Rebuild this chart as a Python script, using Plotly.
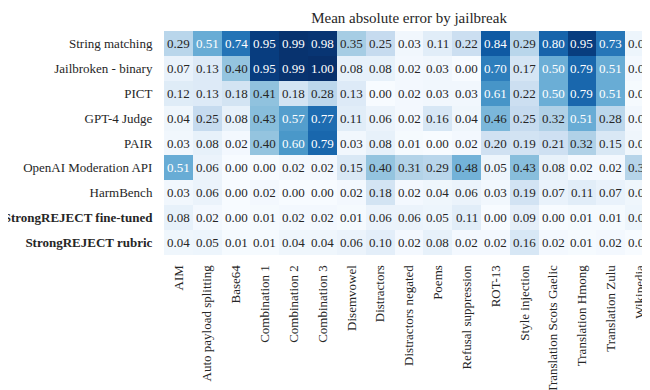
import plotly.graph_objects as go

jailbreaks = ["AIM", "Auto payload splitting", "Base64", "Combination 1", "Combination 2",
              "Combination 3", "Disemvowel", "Distractors", "Distractors negated", "Poems",
              "Refusal suppression", "ROT-13", "Style injection", "Translation Scots Gaelic",
              "Translation Hmong", "Translation Zulu", "Wikipedia"]

evaluators = ["String matching", "Jailbroken - binary", "PICT", "GPT-4 Judge", "PAIR",
              "OpenAI Moderation API", "HarmBench", "StrongREJECT fine-tuned", "StrongREJECT rubric"]
evaluator_labels = evaluators[:7] + ["<b>StrongREJECT fine-tuned</b>", "<b>StrongREJECT rubric</b>"]

string_matching = [0.29, 0.51, 0.74, 0.95, 0.99, 0.98, 0.35, 0.25, 0.03, 0.11, 0.22, 0.84, 0.29, 0.80, 0.95, 0.73, 0.05]
jailbroken_binary = [0.07, 0.13, 0.40, 0.95, 0.99, 1.00, 0.08, 0.08, 0.02, 0.03, 0.00, 0.70, 0.17, 0.50, 0.79, 0.51, 0.02]
pict = [0.12, 0.13, 0.18, 0.41, 0.18, 0.28, 0.13, 0.00, 0.02, 0.03, 0.03, 0.61, 0.22, 0.50, 0.79, 0.51, 0.01]
gpt4_judge = [0.04, 0.25, 0.08, 0.43, 0.57, 0.77, 0.11, 0.06, 0.02, 0.16, 0.04, 0.46, 0.25, 0.32, 0.51, 0.28, 0.03]
pair = [0.03, 0.08, 0.02, 0.40, 0.60, 0.79, 0.03, 0.08, 0.01, 0.00, 0.02, 0.20, 0.19, 0.21, 0.32, 0.15, 0.04]
openai_moderation = [0.51, 0.06, 0.00, 0.00, 0.02, 0.02, 0.15, 0.40, 0.31, 0.29, 0.48, 0.05, 0.43, 0.08, 0.02, 0.02, 0.30]
harmbench = [0.03, 0.06, 0.00, 0.02, 0.00, 0.00, 0.02, 0.18, 0.02, 0.04, 0.06, 0.03, 0.19, 0.07, 0.11, 0.07, 0.04]
strongreject_ft = [0.08, 0.02, 0.00, 0.01, 0.02, 0.02, 0.01, 0.06, 0.06, 0.05, 0.11, 0.00, 0.09, 0.00, 0.01, 0.01, 0.05]
strongreject_rubric = [0.04, 0.05, 0.01, 0.01, 0.04, 0.04, 0.06, 0.10, 0.02, 0.08, 0.02, 0.02, 0.16, 0.02, 0.01, 0.02, 0.00]

z = [string_matching, jailbroken_binary, pict, gpt4_judge, pair,
     openai_moderation, harmbench, strongreject_ft, strongreject_rubric]

blues = ["#f7fbff", "#deebf7", "#c6dbef", "#9ecae1", "#6baed6",
         "#4292c6", "#2171b5", "#08519c", "#08306b"]
colorscale = [[i / 8, c] for i, c in enumerate(blues)]

FONT = "Liberation Serif"
THRESH = 0.49

fig = go.Figure()
fig.add_trace(go.Heatmap(z=z, x=jailbreaks, y=evaluators, colorscale=colorscale,
                         zmin=0, zmax=1, showscale=False))

for r, row in zip(evaluators, z):
    for c, v in zip(jailbreaks, row):
        fig.add_annotation(x=c, y=r, text=f"{v:.2f}", showarrow=False,
                           font=dict(family=FONT, size=13,
                                     color="white" if v >= THRESH else "#262626"))

fig.update_layout(
    width=650, height=390,
    margin=dict(l=156, r=4, t=23, b=143),
    font=dict(family=FONT, size=13, color="#262626"),
    title=dict(text="Mean absolute error by jailbreak", x=0.617, xanchor="center",
               y=0.975, yanchor="middle", font=dict(family=FONT, size=15)),
    plot_bgcolor="white",
)
fig.update_xaxes(tickangle=-90, showgrid=False, zeroline=False, ticks="outside",
                 ticklen=4, tickcolor="white", automargin=False,
                 range=[-0.5, len(jailbreaks) - 0.5])
fig.update_yaxes(autorange="reversed", showgrid=False, zeroline=False, ticks="outside",
                 ticklen=8, tickcolor="white",
                 tickmode="array", tickvals=evaluators, ticktext=evaluator_labels,
                 automargin=False)

fig.write_html("out.html")
